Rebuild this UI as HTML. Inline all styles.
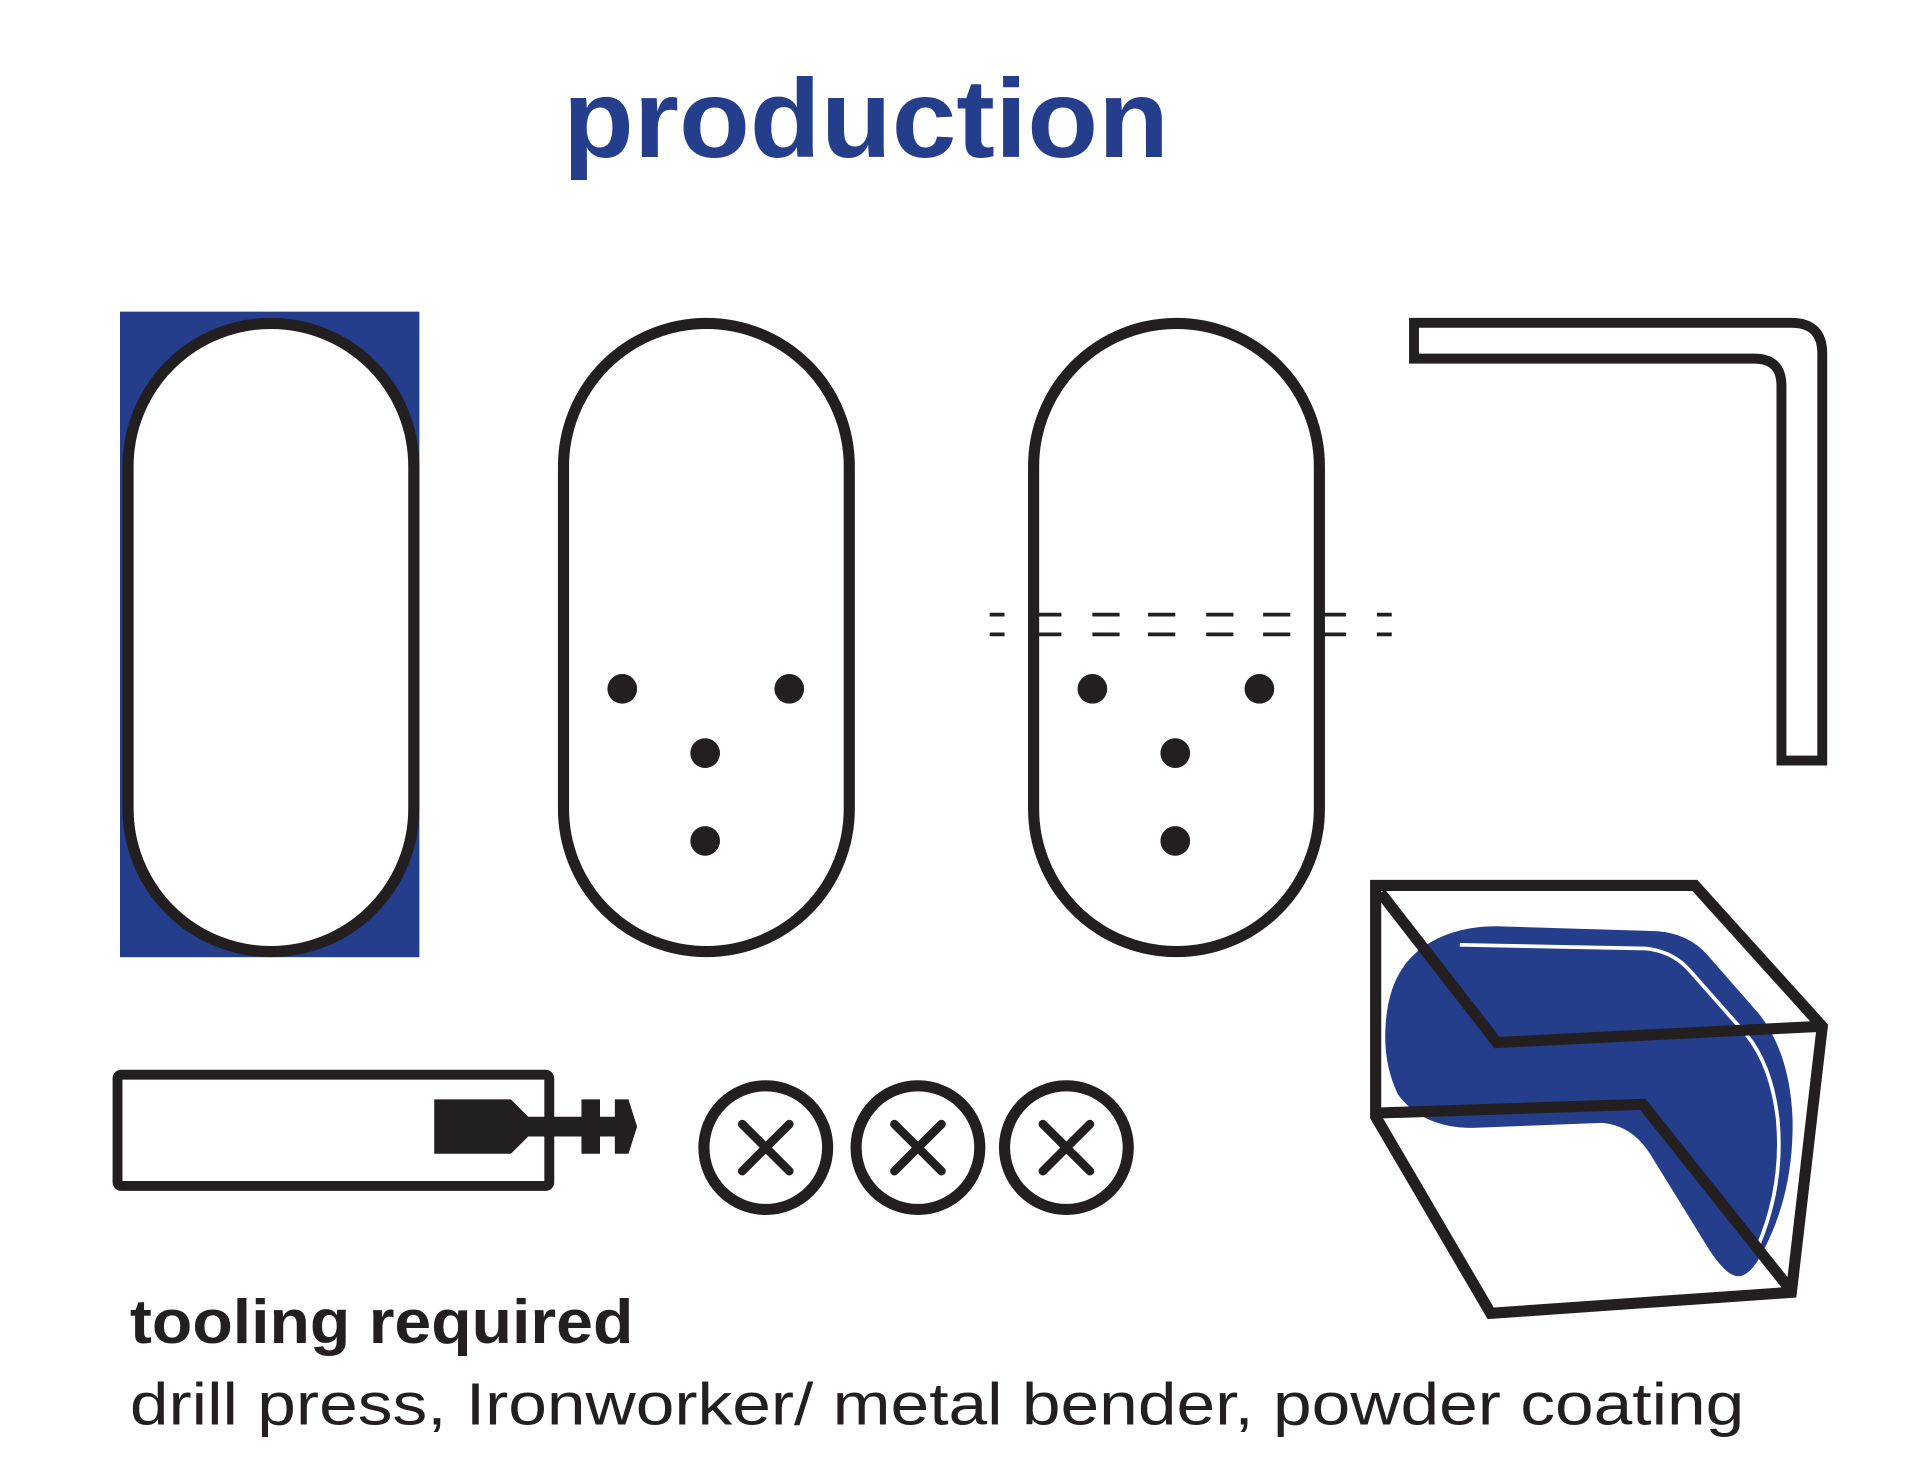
<!DOCTYPE html>
<html><head><meta charset="utf-8"><style>
html,body{margin:0;padding:0;background:#fff;}
svg{display:block;}
</style></head><body>
<svg width="1920" height="1484" viewBox="0 0 1552 1200" preserveAspectRatio="none" xmlns="http://www.w3.org/2000/svg">
<rect width="1552" height="1200" fill="#fff"/>
<text x="455" y="127" font-family="Liberation Sans, sans-serif" font-weight="bold" font-size="90" fill="#243e8c" textLength="490" lengthAdjust="spacingAndGlyphs">production</text>

<rect x="97" y="252" width="242" height="522" fill="#243e8c"/>
<g fill="#fff" stroke="#231f20" stroke-width="9">
<rect x="103.5" y="261.5" width="231" height="508" rx="115.5"/>
<rect x="455.5" y="261.5" width="231" height="508" rx="115.5"/>
<rect x="835.5" y="261.5" width="231" height="508" rx="115.5"/>
</g>
<g fill="#231f20">
<circle cx="503" cy="557" r="12"/><circle cx="638" cy="557" r="12"/><circle cx="570" cy="609" r="12"/><circle cx="570" cy="680" r="12"/>
<circle cx="883" cy="557" r="12"/><circle cx="1018" cy="557" r="12"/><circle cx="950" cy="609" r="12"/><circle cx="950" cy="680" r="12"/>
</g>
<g stroke="#231f20" stroke-width="3" stroke-dasharray="12 26 20 25 22 23 22 25 22 24 22 25 20 25 12">
<line x1="800" y1="497" x2="1125" y2="497"/>
<line x1="800" y1="513" x2="1125" y2="513"/>
</g>
<path d="M1143,261 L1448,261 Q1473,261 1473,286 L1473,615 L1440,615 L1440,312 Q1440,290 1418,290 L1143,290 Z" fill="none" stroke="#231f20" stroke-width="8"/>

<rect x="95" y="869" width="349" height="90" rx="3" fill="none" stroke="#231f20" stroke-width="8"/>
<path d="M351,889 L413,889 L427,903 L470,903 L470,889 L485,889 L485,903 L497,903 L497,889 L508,889 L515,911 L508,933 L497,933 L497,919 L485,919 L485,933 L470,933 L470,919 L427,919 L413,933 L351,933 Z" fill="#231f20"/>

<g fill="none" stroke="#231f20" stroke-width="9">
<circle cx="619" cy="928" r="50"/><circle cx="742" cy="928" r="50"/><circle cx="862" cy="928" r="50"/>
</g>
<g stroke="#231f20" stroke-width="7" stroke-linecap="round">
<path d="M600,909 L638,947 M638,909 L600,947"/>
<path d="M723,909 L761,947 M761,909 L723,947"/>
<path d="M843,909 L881,947 M881,909 L843,947"/>
</g>

<path d="M1210,749 L1340,753 Q1365,755 1380,772 L1422,820 Q1447,852 1449,905 Q1450,965 1425,1012 Q1415,1032 1405,1032 Q1395,1032 1380,1008 L1335,935 Q1320,910 1295,908 L1190,912 Q1150,912 1130,885 Q1118,860 1120,830 Q1122,790 1145,770 Q1170,749 1210,749 Z" fill="#243e8c"/>
<path d="M1180,764 L1330,767 Q1352,769 1366,785 L1412,837 Q1432,862 1437,905 Q1442,960 1420,1010" fill="none" stroke="#fff" stroke-width="3"/>
<g fill="none" stroke="#231f20" stroke-width="9" stroke-linejoin="miter">
<path d="M1112,716 L1370,716 L1473,830 L1448,1045 L1205,1062 L1112,903 Z"/>
<path d="M1116,722 L1210,843 L1470,830"/>
<path d="M1114,900 L1328,893 L1445,1040"/>
</g>

<text x="105" y="1086" font-family="Liberation Sans, sans-serif" font-weight="bold" font-size="50" fill="#231f20" textLength="407" lengthAdjust="spacingAndGlyphs">tooling required</text>
<text x="105" y="1152" font-family="Liberation Sans, sans-serif" font-size="48" fill="#231f20" textLength="1305" lengthAdjust="spacingAndGlyphs">drill press, Ironworker/ metal bender, powder coating</text>
</svg>
</body></html>
